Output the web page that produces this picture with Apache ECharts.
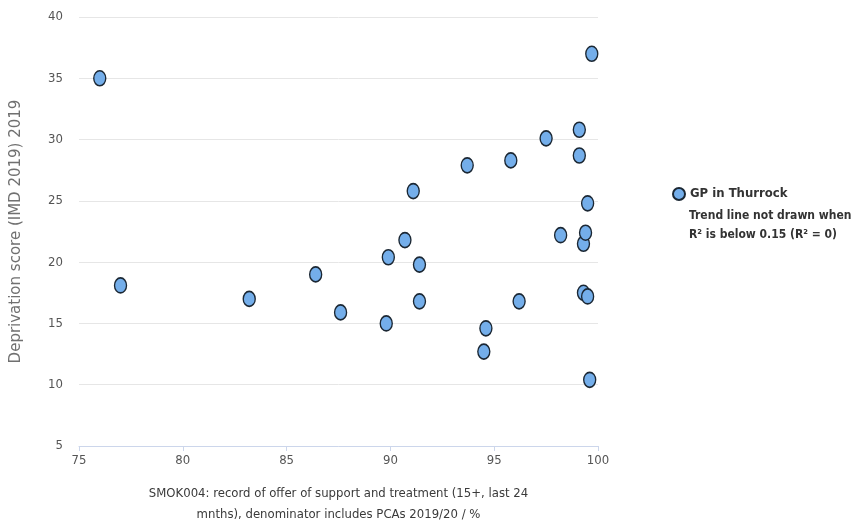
<!DOCTYPE html>
<html>
<head>
<meta charset="utf-8">
<script src="https://cdn.jsdelivr.net/npm/echarts@6/dist/echarts.min.js"></script>
<style>
  html, body { margin: 0; padding: 0; background: #fff; }
  #main { width: 853px; height: 523px; }
</style>
</head>
<body>
<div id="main"></div>
<script>
// smoking support offer % (x) against deprivation score (y)
const offerPct = [76.0, 77.0, 83.2, 86.4, 87.6, 89.8, 89.9, 90.7, 91.1, 91.4, 91.4, 93.7, 94.5, 94.6,
  95.8, 96.2, 97.5, 98.2, 99.1, 99.1, 99.3, 99.4, 99.5, 99.3, 99.5, 99.6, 99.7]
const deprivation = [35.0, 18.1, 17.0, 19.0, 15.9, 15.0, 20.4, 21.8, 25.8, 19.8, 16.8, 27.9, 12.7, 14.6,
  28.3, 16.8, 30.1, 22.2, 30.8, 28.7, 21.5, 22.4, 24.8, 17.5, 17.2, 10.4, 37.0]

const points = offerPct.map((x, i) => [x, deprivation[i]])

const narrow = "'DejaVu Sans Condensed', 'Liberation Sans Narrow', sans-serif"

const myChart = echarts.init(document.getElementById('main'))
const options = {
  animation: false,
  grid: {
    left: 79,
    right: 255,
    top: 17,
    bottom: 77,
    outerBoundsMode: 'none'
  },
  legend: {
    left: 667,
    top: 182,
    orient: 'vertical',
    icon: 'circle',
    itemWidth: 12,
    itemHeight: 14,
    itemGap: 6,
    textStyle: {
      fontFamily: narrow,
      fontSize: 13,
      fontWeight: 'bold',
      color: '#333'
    },
    data: ['GP in Thurrock']
  },
  graphic: [{
    type: 'text',
    left: 689,
    top: 206,
    style: {
      text: 'Trend line not drawn when\nR² is below 0.15 (R² = 0)',
      fontFamily: narrow,
      fontSize: 12,
      fontWeight: 'bold',
      lineHeight: 19,
      fill: '#333'
    }
  }],
  xAxis: {
    type: 'value',
    min: 75,
    max: 100,
    interval: 5,
    name: 'SMOK004: record of offer of support and treatment (15+, last 24\nmnths), denominator includes PCAs 2019/20 / %',
    nameLocation: 'middle',
    nameGap: 37,
    nameTextStyle: {
      fontFamily: narrow,
      fontSize: 13,
      lineHeight: 21,
      color: '#3a3a3a'
    },
    axisLine: { show: true, lineStyle: { color: '#ccd6eb' } },
    axisTick: { show: true, length: 5, lineStyle: { color: '#ccd6eb' } },
    axisLabel: {
      fontFamily: narrow,
      fontSize: 13,
      color: '#555',
      margin: 8
    },
    splitLine: { show: false }
  },
  yAxis: {
    type: 'value',
    min: 5,
    max: 40,
    interval: 5,
    name: 'Deprivation score (IMD 2019) 2019',
    nameLocation: 'middle',
    nameGap: 55,
    nameTextStyle: {
      fontFamily: "'DejaVu Sans', sans-serif",
      fontSize: 15,
      color: '#707070'
    },
    axisLine: { show: false },
    axisTick: { show: false },
    axisLabel: {
      fontFamily: narrow,
      fontSize: 13,
      color: '#555',
      margin: 16
    },
    splitLine: { lineStyle: { color: '#e6e6e6' } }
  },
  series: [{
    name: 'GP in Thurrock',
    type: 'scatter',
    symbol: 'circle',
    symbolSize: [12, 15],
    itemStyle: {
      color: '#74aeea',
      borderColor: '#1b2733',
      borderWidth: 1.5,
      opacity: 1
    },
    data: points
  }]
}

myChart.setOption(options)
</script>
</body>
</html>
